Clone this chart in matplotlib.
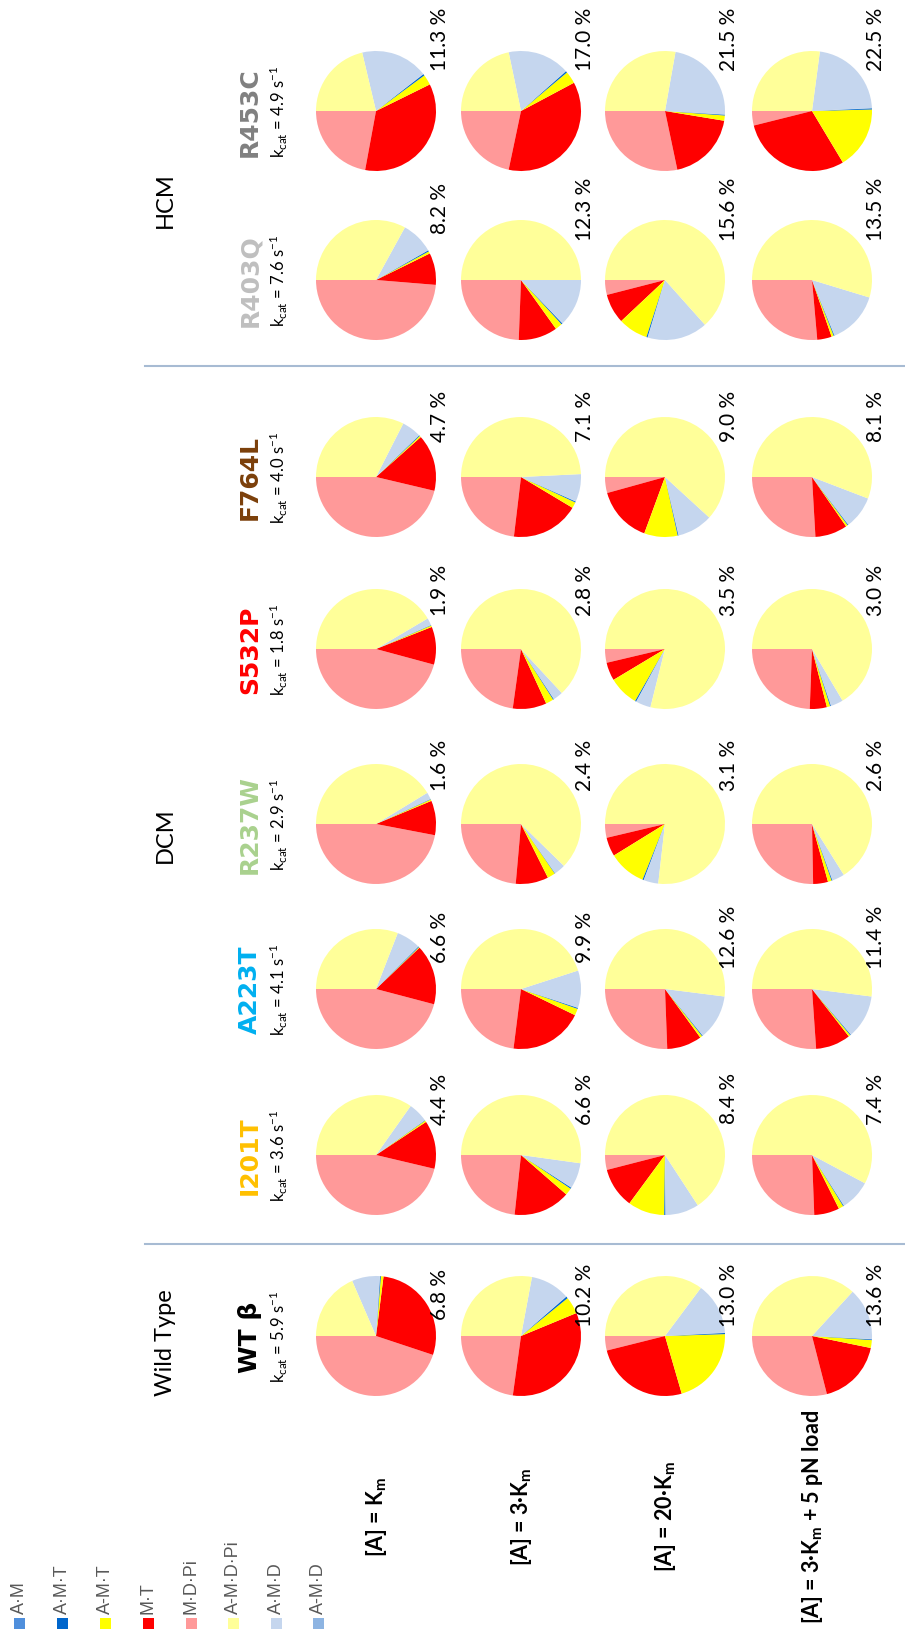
#!/usr/bin/env python3
"""Pizzas com a distribuicao dos estados do ciclo (figura girada 90 graus)."""

import numpy as np
import matplotlib
matplotlib.use('Agg')
import matplotlib.pyplot as plt

plt.rcParams['mathtext.fontset'] = 'custom'
plt.rcParams['mathtext.rm'] = 'Lato'
plt.rcParams['mathtext.it'] = 'Lato:italic'
plt.rcParams['mathtext.bf'] = 'Lato:bold'

# tamanho da figura em pixels
W, H = 905, 1633

mutantes = ['WT β', 'I201T', 'A223T', 'R237W', 'S532P', 'F764L', 'R403Q', 'R453C']
cores_mutantes = ['#000000', '#FFC000', '#00B0F0', '#A9D18E', '#FF0000', '#7B3F0A', '#BFBFBF', '#808080']
kcat = [5.9, 3.6, 4.1, 2.9, 1.8, 4.0, 7.6, 4.9]

condicoes = [r'[A] = K$_\mathbf{m}$', r'[A] = 3·K$_\mathbf{m}$', r'[A] = 20·K$_\mathbf{m}$',
             r'[A] = 3·K$_\mathbf{m}$ + 5 pN load']

grupos = ['Wild Type', 'DCM', 'HCM']

estados = ['A·M', 'A·M·T', 'A-M·T', 'M·T', 'M·D·Pi', 'A-M·D·Pi', 'A·M·D', 'A-M·D']
cores = ['#4F8FDC', '#0066CC', '#FFFF00', '#FF0000', '#FF9999', '#FFFF99', '#C5D6EE', '#8DB4E2']

# porcentagens (linhas = mutantes, colunas = condicoes)
am = [[0.05, 0.05, 0.05, 0.05]] * 8
a_md = [[0.05, 0.05, 0.05, 0.05]] * 8
amt = [[0.2, 0.5, 0.3, 0.2],
       [0.1, 0.3, 0.3, 0.2],
       [0.2, 0.25, 0.2, 0.2],
       [0.1, 0.1, 0.3, 0.2],
       [0.1, 0.2, 0.3, 0.2],
       [0.2, 0.25, 0.2, 0.2],
       [0.3, 0.3, 0.3, 0.2],
       [0.4, 0.4, 0.2, 0.3]]
a_mt = [[0.7, 4.6, 21.0, 2.1],
        [0.4, 1.9, 9.9, 1.3],
        [0.2, 1.8, 0.6, 0.5],
        [0.4, 2.1, 10.1, 1.0],
        [0.4, 2.1, 8.1, 0.9],
        [0.4, 1.6, 9.0, 0.5],
        [0.6, 1.9, 8.0, 0.6],
        [2.8, 3.3, 1.4, 16.8]]
mt = [[28.1, 33.4, 25.6, 17.8],
      [13.0, 15.3, 10.9, 6.8],
      [16.2, 19.8, 9.4, 9.4],
      [9.3, 8.8, 5.1, 4.0],
      [10.2, 9.1, 4.9, 4.6],
      [15.3, 18.3, 15.1, 8.7],
      [8.6, 10.5, 8.0, 3.9],
      [35.2, 36.1, 19.1, 29.7]]
mdpi = [[44.9, 22.8, 3.9, 29.0],
        [46.3, 23.3, 4.0, 25.6],
        [45.9, 23.0, 25.6, 26.1],
        [47.0, 23.6, 3.7, 25.3],
        [45.8, 22.8, 3.7, 24.4],
        [46.3, 23.1, 4.3, 25.9],
        [48.7, 24.4, 4.0, 26.4],
        [22.1, 21.7, 28.3, 3.9]]
a_mdpi = [[18.5, 27.9, 35.2, 36.8],
          [34.8, 52.2, 65.8, 57.8],
          [30.9, 45.0, 52.0, 52.0],
          [41.3, 62.3, 76.8, 66.1],
          [41.5, 63.1, 78.9, 66.5],
          [32.5, 49.2, 61.8, 55.8],
          [33.0, 50.0, 63.4, 54.7],
          [21.3, 21.7, 27.8, 27.1]]
amd = [[7.5, 10.6, 13.9, 14.0],
       [5.3, 6.9, 9.0, 8.2],
       [6.5, 10.0, 12.1, 11.7],
       [1.8, 3.0, 3.9, 3.3],
       [1.9, 2.6, 4.0, 3.3],
       [5.2, 7.4, 9.5, 8.75],
       [8.7, 12.8, 16.2, 14.1],
       [18.1, 16.7, 23.1, 22.1]]

rotulos = [[6.8, 10.2, 13.0, 13.6],
           [4.4, 6.6, 8.4, 7.4],
           [6.6, 9.9, 12.6, 11.4],
           [1.6, 2.4, 3.1, 2.6],
           [1.9, 2.8, 3.5, 3.0],
           [4.7, 7.1, 9.0, 8.1],
           [8.2, 12.3, 15.6, 13.5],
           [11.3, 17.0, 21.5, 22.5]]


def main():
    fig = plt.figure(figsize=(W / 100, H / 100), dpi=100)
    ax = fig.add_axes([0, 0, 1, 1])

    # posicoes em pixels (a partir do topo)
    xs = [376, 521, 665, 812]
    ys = [1337, 1156, 990, 825, 650, 478, 281, 112]
    desloc = [42, 57, 53, 60, 60, 62, 72, 73]
    raio = 60

    # ordem das fatias no sentido anti-horario a partir da esquerda
    ordem = [mdpi, mt, a_mt, amt, am, a_md, amd, a_mdpi]
    cores_ordem = [cores[4], cores[3], cores[2], cores[1], cores[0], cores[7], cores[6], cores[5]]

    for i in range(len(mutantes)):
        cy = H - ys[i]
        for j in range(len(condicoes)):
            vals = [serie[i][j] for serie in ordem]
            ax.pie(vals, colors=cores_ordem, startangle=180, counterclock=True,
                   center=(xs[j], cy), radius=raio, wedgeprops=dict(linewidth=0))
            ax.text(xs[j] + 64, cy + desloc[i], f'{rotulos[i][j]:.1f} %', rotation=90,
                    rotation_mode='anchor', ha='center', va='center',
                    family='Lato', fontsize=15)
        ax.text(250, cy, mutantes[i], rotation=90, rotation_mode='anchor', ha='center',
                va='center', family='DejaVu Sans', fontweight='bold', fontsize=18,
                color=cores_mutantes[i])
        ax.text(279, cy, r'k$_{\mathrm{cat}}$ = ' + f'{kcat[i]:.1f}' + r' s$^{-1}$', rotation=90,
                rotation_mode='anchor', ha='center', va='center', family='Lato', fontsize=12)

    for j in range(len(condicoes)):
        ax.text(xs[j], H - 1517, condicoes[j], rotation=90, rotation_mode='anchor',
                ha='center', va='center', family='Lato', fontweight='bold', fontsize=15.5)

    # titulos dos grupos
    for g, yg in zip(grupos, [1343, 835, 200]):
        ax.text(165, H - yg, g, rotation=90, rotation_mode='anchor', ha='center',
                va='center', family='Lato', fontsize=17)

    # linhas separadoras
    for yl in [1245, 367]:
        ax.plot([145, W], [H - yl, H - yl], color='#A7BBD3', lw=1.5)

    # legenda
    lx = [19, 62, 105, 148, 191, 233, 276, 318]
    for k in range(len(estados)):
        ax.add_patch(plt.Rectangle((lx[k] - 5.5, H - 1630), 11, 11, color=cores[k], lw=0))
        ax.text(lx[k], H - 1614, estados[k], rotation=90, rotation_mode='anchor',
                ha='left', va='center', family='Liberation Sans', fontsize=13, color='#595959')

    ax.set_xlim(0, W)
    ax.set_ylim(0, H)
    ax.set_aspect('equal')
    ax.axis('off')
    fig.savefig('out.png', dpi=100)


if __name__ == "__main__":
    main()
